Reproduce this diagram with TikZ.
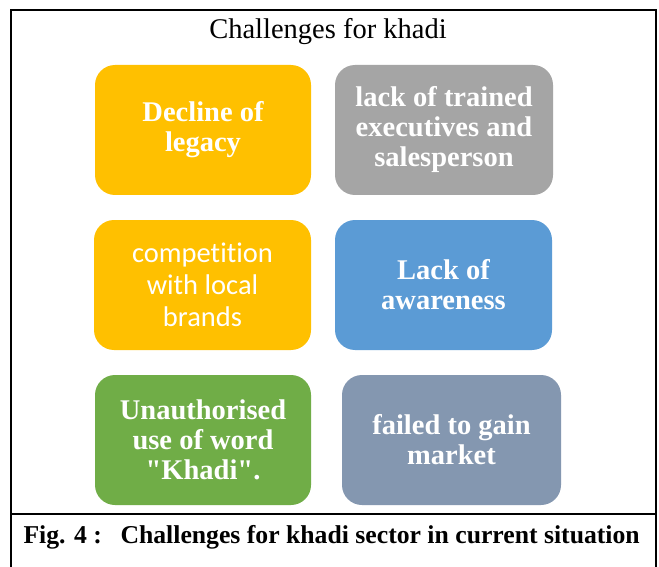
\documentclass[tikz,border=0pt]{standalone}
\usepackage{fontspec}
\setmainfont{Liberation Serif}
\newfontfamily\calfont[Ligatures=NoCommon]{Carlito}
\definecolor{cOrange}{HTML}{FFC000}
\definecolor{cGray}{HTML}{A5A5A5}
\definecolor{cBlue}{HTML}{5B9BD5}
\definecolor{cGreen}{HTML}{70AD47}
\definecolor{cSlate}{HTML}{8497B0}
\begin{document}
\begin{tikzpicture}[x=1pt,y=-1pt,
  card/.style={rounded corners=20pt, inner sep=0pt, minimum height=130pt,
    text=white, align=center, font=\fontsize{28.5}{30}\selectfont\bfseries},
  frameline/.style={line width=2.8pt, black}
]
\useasboundingbox (0,0) rectangle (659,567);
\fill[white] (0,0) rectangle (659,567);
\draw[frameline] (11,567) -- (11,10) -- (656,10) -- (656,567);
\draw[frameline] (11,514) -- (656,514);

\node[anchor=base, font=\fontsize{28.5}{30}\selectfont] (title) at (328,39) {Challenges for khadi};

\node[card, fill=cOrange, minimum width=216pt] (a) at (203,130) {Decline of\\legacy};
\node[card, fill=cGray, minimum width=218pt] (b) at (444,130) {lack of trained\\executives and\\salesperson};
\node[card, fill=cOrange, minimum width=217pt, font=\calfont\fontsize{28.5}{32}\selectfont] (c) at (202.5,285) {competition\\with local\\brands};
\node[card, fill=cBlue, minimum width=217pt] (d) at (443.5,285) {Lack of\\awareness};
\node[card, fill=cGreen, minimum width=216pt] (e) at (203,440) {Unauthorised\\use of word\\\textquotedbl Khadi\textquotedbl.};
\node[card, fill=cSlate, minimum width=219pt] (f) at (451.5,440) {failed to gain\\market};

\node[anchor=base west, font=\bfseries\fontsize{25.7}{30}\selectfont] (fig) at (20,543) {Fig. 4 :};
\node[anchor=base west, font=\bfseries\fontsize{25.7}{30}\selectfont] (cap) at (117,543) {Challenges for khadi sector in current situation};
\end{tikzpicture}
\end{document}
